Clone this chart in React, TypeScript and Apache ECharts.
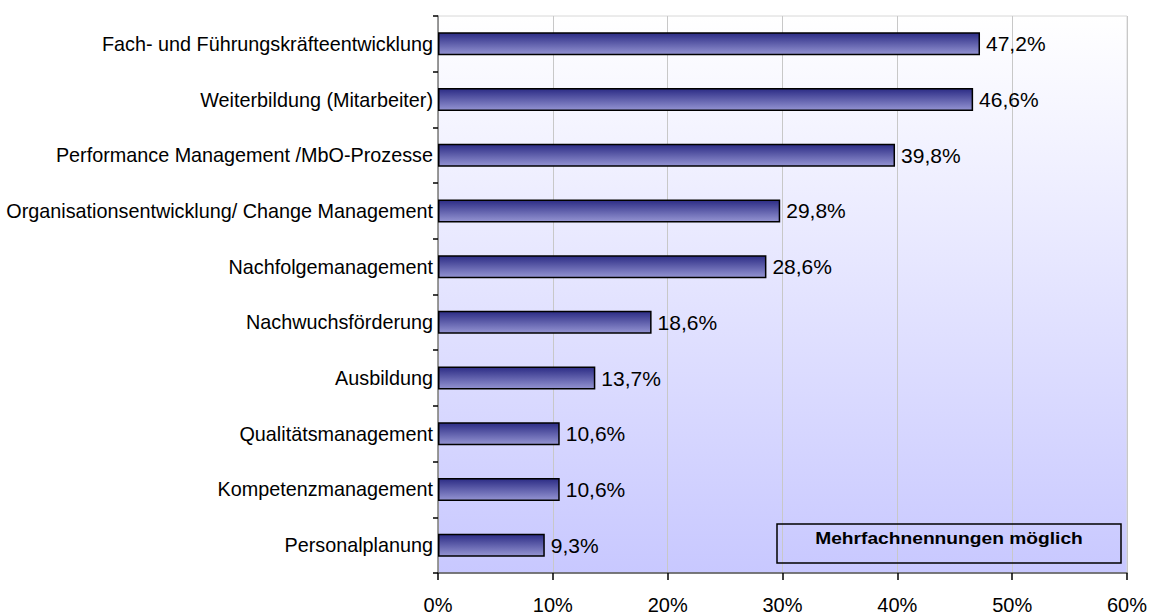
import React, { useEffect, useRef } from "react";
import * as echarts from "echarts";

const categories = [
  "Fach- und Führungskräfteentwicklung",
  "Weiterbildung (Mitarbeiter)",
  "Performance Management /MbO-Prozesse",
  "Organisationsentwicklung/ Change Management",
  "Nachfolgemanagement",
  "Nachwuchsförderung",
  "Ausbildung",
  "Qualitätsmanagement",
  "Kompetenzmanagement",
  "Personalplanung",
];
const values = [47.2, 46.6, 39.8, 29.8, 28.6, 18.6, 13.7, 10.6, 10.6, 9.3];
const xTicks = [0, 10, 20, 30, 40, 50, 60];
const noteText = "Mehrfachnennungen möglich";

export default function App() {
  const ref = useRef<HTMLDivElement>(null);
  useEffect(() => {
    document.body.style.margin = "0";
    const chart = echarts.init(ref.current!, null, { renderer: "svg" });
    const font = "'Liberation Sans', Arial, sans-serif";
    chart.setOption({
      animation: false,
      textStyle: { fontFamily: font },
      grid: {
        left: 438,
        right: 30,
        top: 16,
        bottom: 40,
        show: true,
        borderColor: "#d8d8d8",
        borderWidth: 1,
        backgroundColor: new echarts.graphic.LinearGradient(0, 0, 0, 1, [
          { offset: 0, color: "#ffffff" },
          { offset: 1, color: "#c8c8ff" },
        ]),
      },
      xAxis: {
        type: "value",
        min: xTicks[0],
        max: xTicks[xTicks.length - 1],
        interval: 10,
        axisLine: { show: true, lineStyle: { color: "#555555", width: 1.5 } },
        axisTick: { show: true, length: 7, lineStyle: { color: "#000000", width: 1.5 } },
        axisLabel: {
          formatter: (v: number) => `${v}%`,
          fontSize: 20,
          color: "#000000",
          margin: 22,
          fontFamily: font,
        },
        splitLine: { show: true, lineStyle: { color: "#c8c8c8", width: 1 } },
      },
      yAxis: {
        type: "category",
        data: categories,
        inverse: true,
        axisLine: { show: true, lineStyle: { color: "#808080", width: 1.5 } },
        axisTick: { show: true, length: 5, inside: false, lineStyle: { color: "#000000", width: 1.5 } },
        axisLabel: { fontSize: 19.8, color: "#000000", margin: 5, fontFamily: font },
        splitLine: { show: false },
      },
      series: [
        {
          type: "bar",
          data: values,
          barWidth: 23,
          itemStyle: {
            color: new echarts.graphic.LinearGradient(0, 0, 0, 1, [
              { offset: 0, color: "#2c2c85" },
              { offset: 1, color: "#9494d2" },
            ]),
            borderColor: "#000000",
            borderWidth: 1.5,
          },
          label: {
            show: true,
            position: "right",
            distance: 6,
            fontSize: 21,
            color: "#000000",
            fontFamily: font,
            formatter: (p: any) => `${String(p.value).replace(".", ",")}%`,
          },
        },
      ],
      graphic: [
        {
          type: "rect",
          shape: { x: 777, y: 524, width: 344, height: 39 },
          style: { fill: "transparent", stroke: "#000000", lineWidth: 1.5 },
          z: 10,
        },
        {
          type: "text",
          x: 949,
          y: 538,
          scaleX: 1.13,
          style: {
            text: noteText,
            fontSize: 17,
            fontWeight: "bold",
            fontFamily: font,
            fill: "#000000",
            align: "center",
            verticalAlign: "middle",
          },
          z: 10,
        },
      ],
    });
    return () => chart.dispose();
  }, []);
  return <div ref={ref} style={{ width: 1157, height: 615 }} />;
}
